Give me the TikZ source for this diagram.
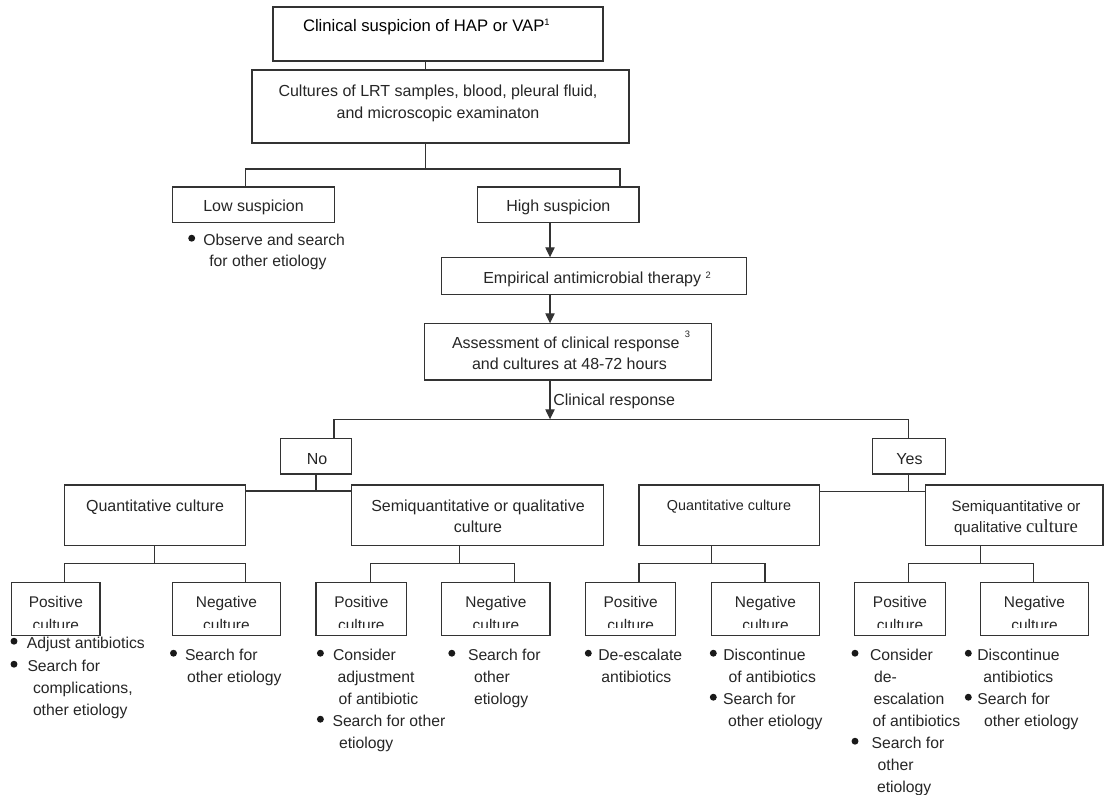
\documentclass[tikz,border=0pt]{standalone}
\usepackage{fontspec}
\setmainfont{Liberation Sans}
\newfontfamily\tnrfont{Liberation Serif}
\usetikzlibrary{arrows.meta}
\newcommand\supr[2]{\raisebox{#1}{\fontsize{7}{7}\selectfont #2}}
% box from (x1,y1) to (x2,y2) in pixel units
\newcommand\mkbox[5]{\node[bxs, minimum width={(#4-#2)*0.75pt}, minimum height={(#5-#3)*0.75pt}] (#1) at ({(#2+#4)/2},{(#3+#5)/2}) {};}
\newcommand\mkleaf[4]{%
  \mkbox{#1}{#2}{582.3}{#3}{635.7}
  \begin{scope}
    \clip ({#2},583) rectangle ({#3},627.6);
    \node[leaft, anchor=base] (#1w) at ({(#2+#3)/2},607.7) {#4};
    \node[leaft, anchor=base] (#1c) at ({(#2+#3)/2},630.5) {culture};
  \end{scope}}
\newcommand\mkbul[5]{%
  \node[bdot] (#1b) at (#2,{#4-6.8}) {};
  \node[btxt, anchor=base west] (#1) at (#3,#4) {#5};}
\newcommand\mkcont[4]{\node[btxt, anchor=base west] (#1) at (#2,#3) {#4};}
\begin{document}
\begin{tikzpicture}[x=0.75pt,y=-0.75pt,
  bxs/.style={draw=black!80, line width=0.9pt, inner sep=0pt, outer sep=0pt, rectangle},
  conn/.style={draw=black!80, line width=0.9pt},
  arr/.style={conn, -{Triangle[length=7.5pt,width=7pt]}},
  txt/.style={inner sep=0pt, outer sep=0pt, text=black!85, font=\fontsize{12}{14}\selectfont},
  leaft/.style={txt, font=\fontsize{11.6}{14}\selectfont},
  btxt/.style={txt, font=\fontsize{11.8}{14}\selectfont},
  bdot/.style={circle, fill=black!90, inner sep=0pt, outer sep=0pt, minimum size=5.2pt}]
\fill[white] (0,0) rectangle (1105,794);
\useasboundingbox (0,0) rectangle (1105,794);

% ---------- boxes ----------
\mkbox{b1}{273}{7}{603}{61}
\mkbox{b2}{252}{70}{629}{143}
\mkbox{low}{172.3}{187}{334.3}{222.3}
\mkbox{high}{477.3}{187}{639}{222.3}
\mkbox{emp}{441.7}{257.3}{746.7}{294.5}
\mkbox{ass}{424.3}{323.3}{711.7}{380}
\mkbox{no}{280.7}{438.3}{351.7}{474}
\mkbox{yes}{872.3}{438.3}{945.4}{474}
\mkbox{q1}{64.3}{485}{245.7}{545.5}
\mkbox{s1}{351.7}{485}{603.8}{545.5}
\mkbox{q2}{639}{485}{819.3}{545.5}
\mkbox{s2}{925.6}{485}{1103}{545.5}
\mkleaf{p1}{11.7}{100}{Positive}
\mkleaf{n1}{172.3}{280.5}{Negative}
\mkleaf{p2}{316}{406.7}{Positive}
\mkleaf{n2}{441.8}{550}{Negative}
\mkleaf{p3}{585.7}{675.7}{Positive}
\mkleaf{n3}{711.7}{819.3}{Negative}
\mkleaf{p4}{854.3}{945.7}{Positive}
\mkleaf{n4}{980.7}{1088.3}{Negative}

% ---------- box texts ----------
\node[txt, text=black, font=\fontsize{12.5}{14}\selectfont, anchor=base west] (t1) at (303,31) {Clinical suspicion of HAP or VAP\supr{3.9pt}{1}};
\node[txt, anchor=base] (t2a) at (438,96.5) {Cultures of LRT samples, blood, pleural fluid,};
\node[txt, anchor=base] (t2b) at (438,118.5) {and microscopic examinaton};
\node[txt, anchor=base] (tlow) at (253.5,211.5) {Low suspicion};
\node[txt, anchor=base] (thigh) at (558.3,211.5) {High suspicion};
\node[txt, anchor=base west] (temp) at (483.3,283.3) {Empirical antimicrobial therapy \supr{3.6pt}{2}};
\node[txt, anchor=base west] (tass1) at (452,348.5) {Assessment of clinical response\hspace{4pt}\supr{8.4pt}{3}};
\node[txt, anchor=base west] (tass2) at (472,369.5) {and cultures at 48-72 hours};
\node[txt, anchor=base west] (tcr) at (553.3,405) {Clinical response};
\node[txt, anchor=base] (tno) at (317,464) {No};
\node[txt, anchor=base] (tyes) at (909.5,464) {Yes};
\node[txt, anchor=base] (tq1) at (155,511.5) {Quantitative culture};
\node[txt, anchor=base] (ts1a) at (478,511.5) {Semiquantitative or qualitative};
\node[txt, anchor=base] (ts1b) at (478,532.5) {culture};
\node[txt, font=\fontsize{10.8}{13}\selectfont, anchor=base] (tq2) at (729,510.5) {Quantitative culture};
\node[txt, font=\fontsize{11.3}{13}\selectfont, anchor=base] (ts2a) at (1016,511.5) {Semiquantitative or};
\node[txt, font=\fontsize{11.3}{13}\selectfont, anchor=base] (ts2b) at (1016,532.5) {qualitative {\tnrfont\fontsize{14}{14}\selectfont culture}};

% ---------- bullet texts ----------
\mkbul{ob1}{191.7}{203.3}{245}{Observe and search}
\mkcont{ob2}{209.3}{266}{for other etiology}

\mkbul{la1}{14}{26.8}{648}{Adjust antibiotics}
\mkbul{la2}{14}{27.5}{671}{Search for}
\mkcont{la3}{33}{693}{complications,}
\mkcont{la4}{33}{715}{other etiology}

\mkbul{lb1}{173.5}{185}{660}{Search for}
\mkcont{lb2}{187}{682}{other etiology}

\mkbul{lc1}{320.4}{333}{660}{Consider}
\mkcont{lc2}{337.5}{682}{adjustment}
\mkcont{lc3}{338.6}{704}{of antibiotic}
\mkbul{lc4}{320.4}{332.5}{726}{Search for other}
\mkcont{lc5}{339}{748}{etiology}

\mkbul{ld1}{451.8}{468}{660}{Search for}
\mkcont{ld2}{474}{682}{other}
\mkcont{ld3}{474}{704}{etiology}

\mkbul{ra1}{588.3}{598.3}{660}{De-escalate}
\mkcont{ra2}{601.3}{682}{antibiotics}

\mkbul{rb1}{713.3}{723.3}{660}{Discontinue}
\mkcont{rb2}{728.5}{682}{of antibiotics}
\mkbul{rb3}{713.3}{723}{704}{Search for}
\mkcont{rb4}{728}{726}{other etiology}

\mkbul{rc1}{855}{870}{660}{Consider}
\mkcont{rc2}{874}{682}{de-}
\mkcont{rc3}{873.5}{704}{escalation}
\mkcont{rc4}{872.7}{726}{of antibiotics}
\mkbul{rc5}{855}{871.7}{748}{Search for}
\mkcont{rc6}{877.7}{770}{other}
\mkcont{rc7}{877}{792}{etiology}

\mkbul{rd1}{968.3}{977.3}{660}{Discontinue}
\mkcont{rd2}{983.3}{682}{antibiotics}
\mkbul{rd3}{968.3}{977.3}{704}{Search for}
\mkcont{rd4}{984}{726}{other etiology}

% ---------- connectors ----------
\coordinate (j0) at (425.5,169);
\coordinate (jl1) at (245.7,169);
\coordinate (jr1) at (620,169);
\draw[conn] (b1.south -| j0) -- (b2.north -| j0);
\draw[conn] (b2.south -| j0) -- (j0);
\draw[conn] (low.north -| jl1) -- (jl1) -- (jr1) -- (high.north -| jr1);

\coordinate (ja) at (550,419.3);
\draw[arr] (high.south -| ja) -- (emp.north -| ja);
\draw[arr] (emp.south -| ja) -- (ass.north -| ja);
\draw[arr] (ass.south -| ja) -- (ja);

\coordinate (jn) at (334,419.3);
\coordinate (jy) at (908.3,419.3);
\draw[conn] (no.north -| jn) -- (jn) -- (jy) -- (yes.north -| jy);

\coordinate (jn3) at (316,491);
\coordinate (jy3) at (908.3,491.5);
\draw[conn] (no.south -| jn3) -- (jn3);
\draw[conn] (q1.east |- jn3) -- (s1.west |- jn3);
\draw[conn] (yes.south -| jy3) -- (jy3);
\draw[conn] (q2.east |- jy3) -- (s2.west |- jy3);

\coordinate (k1) at (154.5,563.3);
\coordinate (k1l) at (64.3,563.3);
\coordinate (k1r) at (245.5,563.3);
\draw[conn] (q1.south -| k1) -- (k1);
\draw[conn] (p1.north -| k1l) -- (k1l) -- (k1r) -- (n1.north -| k1r);

\coordinate (k2) at (459.6,563.3);
\coordinate (k2l) at (370.7,563.3);
\coordinate (k2r) at (514.3,563.3);
\draw[conn] (s1.south -| k2) -- (k2);
\draw[conn] (p2.north -| k2l) -- (k2l) -- (k2r) -- (n2.north -| k2r);

\coordinate (k3) at (711.7,563.3);
\coordinate (k3l) at (639,563.3);
\coordinate (k3r) at (765,563.3);
\draw[conn] (q2.south -| k3) -- (k3);
\draw[conn] (p3.north -| k3l) -- (k3l) -- (k3r) -- (n3.north -| k3r);

\coordinate (k4) at (980.5,563.3);
\coordinate (k4l) at (908.3,563.3);
\coordinate (k4r) at (1033.3,563.3);
\draw[conn] (s2.south -| k4) -- (k4);
\draw[conn] (p4.north -| k4l) -- (k4l) -- (k4r) -- (n4.north -| k4r);
\end{tikzpicture}
\end{document}
